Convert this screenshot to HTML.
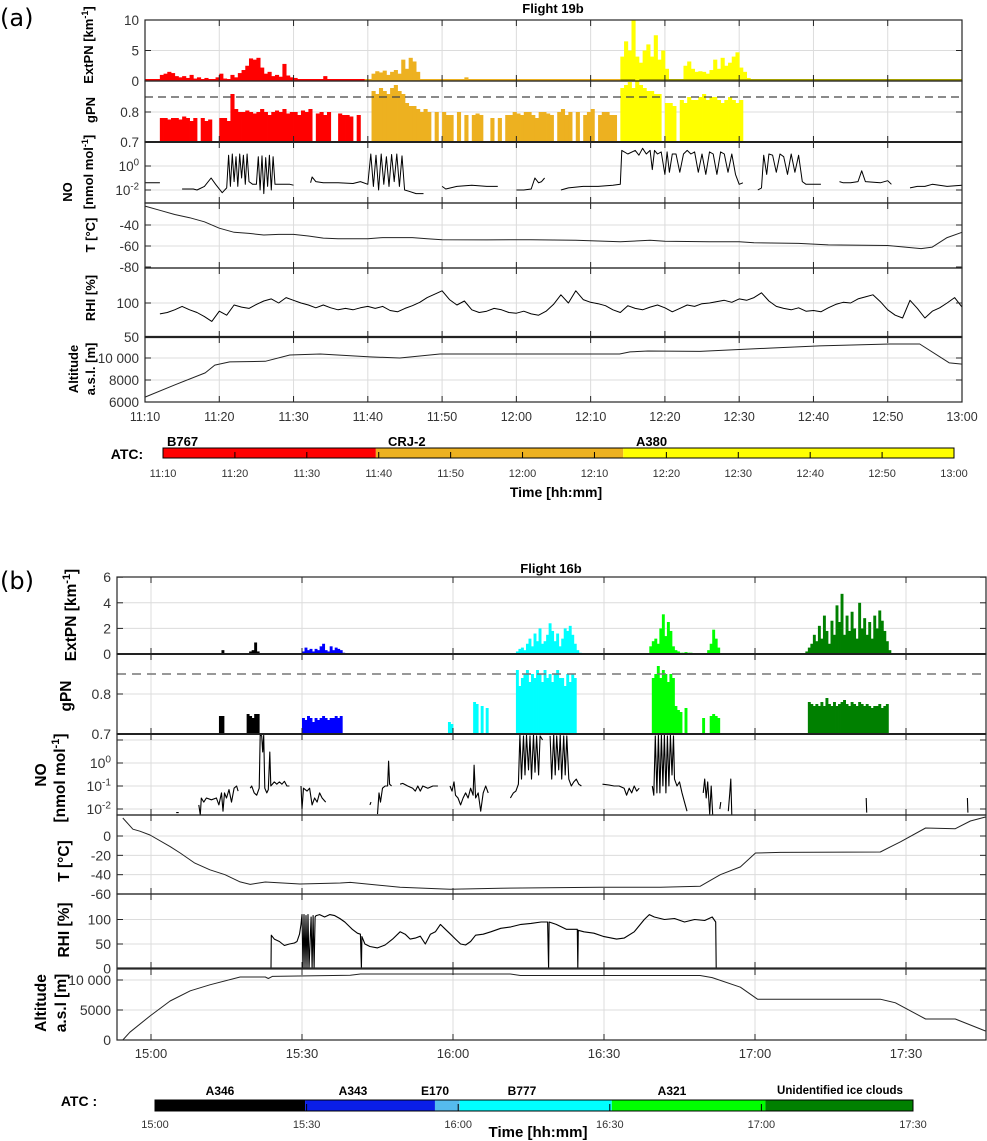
<!DOCTYPE html>
<html><head><meta charset="utf-8"><title>Flights 19b and 16b</title>
<style>
html,body{margin:0;padding:0;background:#fff;}
svg{display:block;font-family:"Liberation Sans",Arial,sans-serif;}
.tl{font-size:13.5px;fill:#333;}
.tt{font-size:12.5px;fill:#333;}
.yl{font-weight:bold;fill:#000;}
.atc{font-weight:bold;fill:#000;}
</style></head>
<body>
<svg id="fig" width="987" height="1141" viewBox="0 0 987 1141" xmlns="http://www.w3.org/2000/svg">
<rect x="0" y="0" width="987" height="1141" fill="#fff"/>
<text x="0" y="26" font-size="24" font-family="DejaVu Sans, sans-serif">(a)</text>
<text x="0" y="589" font-size="24" font-family="DejaVu Sans, sans-serif">(b)</text>
<text x="553" y="13" font-size="13" font-weight="bold" text-anchor="middle">Flight 19b</text>
<text x="551" y="573" font-size="13" font-weight="bold" text-anchor="middle">Flight 16b</text>

<!-- y-axis titles panel a -->
<g class="yl" font-size="13" text-anchor="middle">
<text transform="translate(93,45) rotate(-90)">ExtPN [km<tspan font-size="9" dy="-5">-1</tspan><tspan dy="5">]</tspan></text>
<text transform="translate(95,110) rotate(-90)">gPN</text>
<text transform="translate(72,192) rotate(-90)">NO</text>
<text transform="translate(93,172) rotate(-90)">[nmol mol<tspan font-size="9" dy="-5">-1</tspan><tspan dy="5">]</tspan></text>
<text transform="translate(95,235) rotate(-90)">T [°C]</text>
<text transform="translate(95,298) rotate(-90)">RHI [%]</text>
<text transform="translate(78,369) rotate(-90)">Altitude</text>
<text transform="translate(95,369) rotate(-90)">a.s.l. [m]</text>
</g>
<!-- y-axis titles panel b -->
<g class="yl" font-size="15.5" text-anchor="middle">
<text transform="translate(76,615) rotate(-90)">ExtPN [km<tspan font-size="11" dy="-6">-1</tspan><tspan dy="6">]</tspan></text>
<text transform="translate(71,696) rotate(-90)">gPN</text>
<text transform="translate(46,775) rotate(-90)">NO</text>
<text transform="translate(65,778) rotate(-90)">[nmol mol<tspan font-size="11" dy="-6">-1</tspan><tspan dy="6">]</tspan></text>
<text transform="translate(69,861) rotate(-90)">T [°C]</text>
<text transform="translate(69,930) rotate(-90)">RHI [%]</text>
<text transform="translate(46,1003) rotate(-90)">Altitude</text>
<text transform="translate(66,1003) rotate(-90)">a.s.l [m]</text>
</g>

<!-- ATC bar labels a -->
<text class="atc" x="127" y="459" font-size="14" text-anchor="middle">ATC:</text>
<text class="atc" x="167" y="446" font-size="13">B767</text>
<text class="atc" x="388" y="446" font-size="13">CRJ-2</text>
<text class="atc" x="636" y="446" font-size="13">A380</text>
<text class="atc" x="556" y="497" font-size="14" text-anchor="middle">Time [hh:mm]</text>
<!-- ATC bar labels b -->
<text class="atc" x="79" y="1106" font-size="14" text-anchor="middle">ATC :</text>
<text class="atc" x="220" y="1095" font-size="12" text-anchor="middle">A346</text>
<text class="atc" x="353" y="1095" font-size="12" text-anchor="middle">A343</text>
<text class="atc" x="435" y="1095" font-size="12" text-anchor="middle">E170</text>
<text class="atc" x="522" y="1095" font-size="12" text-anchor="middle">B777</text>
<text class="atc" x="672" y="1095" font-size="12" text-anchor="middle">A321</text>
<text class="atc" x="840" y="1094" font-size="11.5" text-anchor="middle">Unidentified ice clouds</text>
<text class="atc" x="538" y="1137" font-size="15" text-anchor="middle">Time [hh:mm]</text>
</svg>

<script>
// ===================== DATA: Flight 19b (minutes after 11:10) =====================
const timeTicksA = [0,10,20,30,40,50,60,70,80,90,100,110];
const timeLabelsA = ['11:10','11:20','11:30','11:40','11:50','12:00','12:10','12:20','12:30','12:40','12:50','13:00'];
// ExtPN bars (0.5 min step)
const extRedStart = 2, extRedVals = [1.0,1.2,1.5,1.3,0.8,0.6,0.8,0.5,1.0,0.4,0.6,0.3,0.5,0.3,0.2,0.6,1.2,0.4,0.3,1.0,0.6,1.3,1.8,2.5,3.7,3.5,3.8,2.2,1.2,1.5,0.8,1.0,0.7,2.8,0.9,0.6,0.5,0.3,0.3,0.2,0.2,0.2,0.3,0.2,0.8,0.2,0.3,0.2,0.2,0.3,0.2,0.2,0.2,0.1,0.1];
const extOrangeStart = 30.5, extOrangeVals = [1.2,1.6,1.4,1.7,1.0,1.5,1.8,1.2,3.5,2.0,3.8,3.2,1.5,0.3,0.2,0.2,0.3,0.2,0.2,0.2,0.2,0.1,0.2,0.2,0.2,0.6,0.3,0.1,0.1,0.2,0.1,0.1,0.2,0.1,0.1,0.1,0.2,0.1,0.3,0.1,0.1,0.2,0.1,0.1,0.2,0.2,0.1,0.1,0.2,0.3,0.1,0.2,0.1,0.1,0.2,0.1,0.1,0.3,0.2,0.1,0.2,0.1,0.3,0.2,0.1,0.2,0.1,0.1];
const extYellowStart = 64, extYellowVals = [4,6.5,5,10,4,3,5,6,4,7.5,3.5,5,2,0.3,0.2,0.2,0.3,2.5,3.2,2.0,1.5,1.6,1.5,1.2,1.8,3.5,2.0,3.8,2.5,3.0,4.0,4.7,2.2,1.5,0.5,0.2];
// gPN bars (0.5 min step, null = no data)
const gpnRedStart = 2, gpnRedVals = [0.78,0.78,0.775,0.78,0.78,0.775,0.785,0.78,0.77,0.78,null,0.78,0.77,0.775,null,null,0.78,0.78,0.77,0.86,0.81,0.80,0.80,0.805,0.80,0.795,0.80,0.81,0.80,0.79,0.80,0.805,0.80,0.81,0.795,0.80,0.80,0.79,0.805,0.80,0.81,null,0.795,0.80,0.79,0.80,null,null,0.795,0.79,0.79,0.785,null,0.79];
const gpnOrangeStart = 30.5, gpnOrangeVals = [0.87,0.86,0.88,0.87,0.86,0.88,0.89,0.87,0.86,0.83,0.82,0.82,0.81,0.80,0.81,0.80,null,0.80,null,0.80,0.79,0.79,null,0.80,null,0.79,null,0.79,0.795,0.79,null,null,0.78,null,0.78,null,0.79,0.79,0.80,0.795,0.79,0.80,0.80,0.79,0.78,0.80,0.80,0.795,0.79,null,0.80,0.81,0.79,0.80,null,0.80,null,0.79,0.80,0.81,null,0.79,0.80,0.80,0.79,0.79,null,null];
const gpnYellowStart = 64, gpnYellowVals = [0.88,0.89,0.90,0.88,0.91,0.89,0.88,0.87,0.87,0.86,0.86,null,0.83,0.83,0.82,null,0.84,0.83,0.85,0.84,0.84,0.85,0.86,0.84,0.85,0.85,0.84,0.83,0.84,0.85,0.84,0.83,0.84,null,null,null];
const gpnThreshold = 0.85;
// NO (times in min, values nmol/mol; null = gap)
const noTA = [0,1,2,null,5,6.5,7,8,8.9,9.5,10.4,11,11.25,11.5,11.75,12,12.25,12.5,12.75,13,13.25,13.5,13.75,14,14.5,15,15.25,15.5,15.75,16,16.25,16.5,16.75,17,17.25,17.5,18.5,19.5,20,null,22.3,22.5,23,24,26,28,29,30,30.4,30.75,31.1,31.45,31.8,32.15,32.5,32.85,33.2,33.55,33.9,34.25,34.6,34.95,35.5,36.5,37.5,null,40,40.5,42,44,46,47.5,null,50,51,52,52.5,53,53.4,53.8,null,56,57,59,61,63,64,64.2,65,66,66.5,67,67.5,68,68.3,68.6,69,69.5,70,70.3,70.6,71,71.5,72,72.5,73,73.5,74,74.5,75,75.5,76,76.5,77,77.5,78,78.5,79,79.5,80,80.5,null,82.5,83,83.3,83.7,84,84.5,85,85.5,86,86.5,87,87.5,88,88.5,89,90,91,null,93.5,94,95,96,96.5,97,99,100,100.5,null,103,104,105,106,108,110];
const noVA = [0.04,0.04,0.04,null,0.012,0.012,0.01,0.02,0.1,0.03,0.006,0.015,8,0.02,10,0.05,6,0.02,10,0.1,8,0.03,10,0.05,0.03,0.03,6,0.01,7,0.005,5,0.02,8,0.01,6,0.03,0.03,0.03,0.025,null,0.04,0.12,0.05,0.04,0.04,0.035,0.05,0.03,10,0.02,8,0.01,10,0.03,6,0.02,9,0.05,10,0.02,7,0.01,0.008,0.005,0.005,null,0.02,0.012,0.02,0.025,0.02,0.02,null,0.01,0.01,0.012,0.1,0.04,0.05,0.1,null,0.01,0.015,0.02,0.02,0.025,0.03,20,10,20,8,30,10,20,0.5,20,10,15,0.2,15,0.3,10,10,0.3,10,20,10,15,0.3,10,0.2,15,10,0.2,15,10,0.3,10,0.2,0.03,0.04,null,0.01,0.015,8,0.2,10,8,0.3,10,6,0.2,10,0.3,8,0.05,0.03,0.03,0.03,null,0.05,0.04,0.04,0.05,0.4,0.05,0.04,0.06,0.03,null,0.015,0.02,0.02,0.03,0.02,0.025];
// Temperature
const tempTA = [0,2,4,6,8,10,12,14,16,18,20,22,24,26,30,32,34,36,38,40,46,52,58,64,68,70,76,80,82,88,92,100,104.5,106,108,110];
const tempVA = [-22,-26,-30,-33,-37,-43,-47,-48,-49.5,-49,-49,-50.5,-52.5,-53,-53,-52,-52,-52,-53,-54,-54.2,-54,-54.5,-56,-54.5,-55.5,-56,-56,-57,-57.5,-59,-59.5,-62.5,-61,-52,-47];
// RHI (1-min, starting t=2)
const rhiStartA = 2;
const rhiVA = [84,86,90,95,90,86,80,73,88,82,97,94,92,98,103,106,100,108,104,100,97,93,97,93,90,92,90,93,95,92,95,89,87,92,96,101,108,113,118,105,97,103,90,86,88,92,90,86,85,88,84,82,88,98,112,100,118,105,101,99,96,90,86,96,92,90,94,97,93,87,92,97,95,99,100,102,104,101,106,104,108,115,103,95,92,90,93,88,89,87,93,98,101,100,106,109,112,102,90,82,78,104,92,78,88,93,100,108,94];
// Altitude
const altTA = [0,4,8.1,9.4,10,11.4,16.2,19.5,23.6,30.3,34.3,39.7,63.9,65.3,67.7,74.7,84.1,90.8,100.3,104.3,108.3,110];
const altVA = [6450,7550,8650,9350,9450,9650,9700,10270,10360,10100,10000,10360,10360,10550,10640,10600,10900,11100,11270,11270,9550,9450];
// ATC segments (minutes after 11:10)
const atcStartA = [0,29.6,64];
const atcEndA = [29.6,64,110];

// ===================== DATA: Flight 16b (minutes after 15:00) =====================
const timeTicksB = [0,30,60,90,120,150];
const timeLabelsB = ['15:00','15:30','16:00','16:30','17:00','17:30'];
const extBlackStart = 13.5, extBlackVals = [0,0.3,0,0,0,0,0,0,0,0,0,0,0.2,0.3,0.9,0.2];
const extBlueStart = 30, extBlueVals = [0.2,0.5,0.3,0.4,0.2,0.4,0.3,0.6,0.8,0.3,0.2,0.6,0.3,0.5,0.4,0.3,0.1];
const extCyanStart = 72.5, extCyanVals = [0.2,0.4,0.5,0.3,0.8,1.2,0.6,1.6,1.0,2.0,0.8,1.0,1.5,2.4,1.8,1.0,1.6,0.6,1.2,2.0,1.8,2.2,1.5,0.8,0.3,0.1];
const extGreenStart = 99, extGreenVals = [0.6,1.0,1.2,0.8,2.0,3.1,1.4,2.5,1.8,0.6,0.3,0.2,0.1,0.1,0.15,0.1,0.1,0.05,0,0,0,0,0,0.3,0.8,1.9,1.2,0.5,0];
const extDGreenStart = 130, extDGreenVals = [0.2,0.5,0.8,1.5,1.0,2.2,1.2,3.0,1.8,0.8,2.6,1.5,3.8,2.5,4.7,1.5,3.0,1.8,3.3,2.0,1.2,4.0,2.0,2.8,1.5,2.5,1.2,3.0,2.0,3.4,2.6,1.8,1.0,0.3];
const gpnBlackStart = 13.5, gpnBlackVals = [0.745,0.745,null,null,null,null,null,null,null,null,null,0.75,0.745,0.74,0.75,0.75];
const gpnBlueStart = 30, gpnBlueVals = [0.74,0.735,0.745,0.74,0.73,0.74,0.735,0.74,0.745,0.74,0.735,0.74,0.74,0.745,0.74,0.745];
const gpnCyanStart = 59, gpnCyanVals = [0.73,0.725,null,null,null,null,null,null,null,null,0.78,0.775,null,0.77,null,0.765,null,null,null,null,null,null,null,null,null,null,null,0.86,0.82,0.84,0.85,0.86,0.83,0.85,0.84,0.86,0.85,0.83,0.86,0.84,0.85,0.83,0.85,0.86,0.84,0.84,0.82,0.85,0.83,0.85,0.84];
const gpnGreenStart = 99, gpnGreenVals = [null,0.84,0.85,0.87,0.84,0.86,0.85,0.83,0.85,0.84,0.77,0.76,0.755,null,0.765,null,null,null,null,null,null,0.74,null,null,0.745,0.75,0.745,0.74,null];
const gpnDGreenStart = 130.5, gpnDGreenVals = [0.78,0.775,0.77,0.775,0.77,0.78,0.77,0.79,0.775,0.77,0.78,0.77,0.775,0.78,0.785,0.775,0.77,0.78,0.775,0.77,0.78,0.775,0.77,0.775,0.77,0.765,0.77,0.77,0.775,0.765,0.77,0.775];
const noTB = [5,5.5,null,9.5,9.8,10,10.5,11,12,13,13.5,14,14.3,14.6,15,15.5,16,16.5,17,17.3,null,19.7,20,20.5,21,21.5,21.7,22,22.2,22.4,22.6,23,23.3,23.6,23.8,24.5,25,25.5,26,26.5,27,27.5,null,29.8,30,30.3,31,31.5,32,32.5,33,33.5,34,34.7,null,43.5,43.7,null,45,45.3,45.6,46,46.5,47,47.2,47.4,47.8,null,49.5,50,51,52,52.5,53,53.5,54,55,56,57,null,59.4,59.8,60.2,60.5,61,61.5,62,62.5,63,63.5,64,64.2,64.5,65,65.5,66,66.5,67,null,71.4,72,72.5,73,73.3,73.6,74,74.3,74.6,75,75.3,75.6,76,76.3,76.6,77,77.3,77.8,null,79.3,79.6,80,80.3,80.6,81,81.3,81.6,82,82.3,82.6,83,83.5,84,84.5,85,85.5,null,89.7,91,92,93,94,94.5,95,95.5,96,96.5,97,null,99.6,99.9,100.2,100.5,100.8,101.1,101.4,101.7,102,102.3,102.6,102.9,103.2,103.5,103.8,104,104.5,105,105.5,106,106.5,null,109.7,110,110.3,110.6,111,111.3,111.6,null,113,113.2,null,114.7,115,115.2,115.4,null,142.1,142.2,null,162.2,162.3];
const noVB = [0.007,0.007,null,0.015,0.004,0.03,0.02,0.03,0.025,0.03,0.015,0.05,0.008,0.05,0.03,0.07,0.02,0.08,0.1,0.06,null,0.08,0.1,0.05,0.04,0.08,20,15,3,20,0.08,0.05,0.07,3,0.1,0.15,0.12,0.15,0.12,0.16,0.1,0.1,null,0.1,0.01,0.08,0.06,0.08,0.015,0.03,0.02,0.05,0.03,0.02,null,0.015,0.02,null,0.006,0.05,0.02,0.08,0.1,0.1,1.2,0.12,0.1,null,0.12,0.13,0.1,0.08,0.06,0.1,0.06,0.1,0.08,0.1,0.1,null,0.1,0.06,0.15,0.04,0.03,0.015,0.03,0.05,0.03,0.08,0.04,0.8,0.03,0.05,0.008,0.05,0.1,0.05,null,0.03,0.05,0.06,0.12,20,0.2,15,0.3,20,0.5,15,0.2,18,0.4,15,0.3,15,10,null,15,0.2,18,0.3,15,0.5,18,0.2,15,0.3,15,0.2,0.1,0.15,0.2,0.12,0.1,null,0.12,0.11,0.1,0.1,0.08,0.04,0.08,0.05,0.1,0.06,0.08,null,0.1,0.04,15,0.05,20,0.05,18,0.1,20,0.05,15,0.1,20,0.3,15,0.2,0.1,0.15,0.05,0.02,0.008,null,0.05,0.2,0.03,0.15,0.006,0.1,0.005,null,0.01,0.02,null,0.008,0.05,0.2,0.005,null,0.03,0.007,null,0.03,0.007];
const tempTB = [-5.6,-3.6,-2.2,-0.2,3.8,5.8,8.7,11.7,14.7,17.7,19.7,22.7,29.6,37.6,39.6,49.5,59.4,69.4,89.3,101.2,109.1,113.1,117.1,120.1,125,144.9,148.9,153.9,159.8,162.8,165.8];
const tempVB = [18.6,7,5,1,-11,-17.6,-28,-35,-40,-47.5,-50,-47.6,-49.6,-48.6,-48,-53,-55,-54,-53,-53,-52,-40,-32,-17.6,-17,-16.5,-6,8.3,7.5,15.5,19.6];
const rhiTB = [23.85,23.9,24.5,25.5,26.5,27.5,28.5,29,29.5,29.8,30,30.2,30.4,30.6,30.8,31,31.2,31.4,31.8,32,32.2,32.4,32.6,32.8,33.5,34.5,35.5,36.5,37.5,38.5,39.5,40,41,41.6,41.8,41.9,42.5,43.5,45,46.5,48,49.5,50.5,51.5,52.5,53.5,54.5,55.5,56.5,57.5,58.5,59.5,60.5,61.5,62.5,63.5,64.5,66,67.5,69.5,71.5,73.5,75.5,77.5,78.8,79,79.1,80.5,82.5,84.7,84.8,84.9,86,88,90,92.5,94,96,98,99,100,102,104,106,108,110,111.5,112.2,112.3];
const rhiVB = [0,68,60,55,47,50,52,55,70,90,110,0,110,0,108,0,110,0,105,0,108,0,105,108,110,105,110,108,102,95,85,80,72,70,0,65,50,45,42,48,60,75,70,60,62,66,50,70,75,90,80,70,60,50,48,55,68,70,75,82,85,90,92,95,95,0,95,90,80,80,0,78,75,72,65,60,62,75,100,110,105,100,102,95,100,98,105,95,0];
const altTB = [-5.6,-4.2,-0.2,3.8,7.8,11.7,17.7,22.7,23.3,24.1,39.6,41.6,71.4,73.4,109.1,111.5,117.1,120.5,144.9,147.9,153.9,159.8,165.8];
const altVB = [0,1300,4000,6500,8200,9200,10500,10500,10250,10600,10800,11000,11000,10750,10750,10400,8800,6800,6800,6200,3500,3500,1500];
const atcStartB = [0,29.7,55.4,60.3,90.4,120.8];
const atcEndB = [29.7,55.4,60.3,90.4,120.8,150];

// ===================== RENDERING =====================
const NS = 'http://www.w3.org/2000/svg';
const svg = document.getElementById('fig');
function mk(tag, attrs, parent) {
  const e = document.createElementNS(NS, tag);
  for (const k in attrs) e.setAttribute(k, attrs[k]);
  (parent || svg).insertBefore(e, null);
  return e;
}
const clamp = (v, a, b) => Math.max(a, Math.min(b, v));

// axis scales
const XA = {x0: 145, x1: 962, t0: 0, t1: 110};
const XB = {x0: 117, x1: 986, t0: -6.75, t1: 165.9};
const xa = t => 145 + t * 817 / 110;
const xb = t => 151 + t * 151 / 30;

function panelFrame(xs, X, top, bot, gridVals, yfn, tickVals, tickLabels, labelX, labelSize, ticksT, name) {
  const g = mk('g', {});
  
  
  ticksT.forEach(t => {
    const l = mk('line', {x1: xs(t), x2: xs(t), y1: top, y2: bot, stroke: '#dcdcdc', 'stroke-width': 1}, g);
    
    
  });
  gridVals.forEach(v => {
    const l = mk('line', {x1: X.x0, x2: X.x1, y1: yfn(v), y2: yfn(v), stroke: '#dcdcdc', 'stroke-width': 1}, g);
    
    
  });
  tickVals.forEach((v, i) => {
    const lab = tickLabels[i];
    if (lab === null) return;
    const t = mk('text', {x: labelX, y: yfn(v) + labelSize * 0.36, 'text-anchor': 'end', 'font-size': labelSize, fill: '#333'});
    
    
    if (typeof lab === 'string' && lab.startsWith('10^')) {
      t.textContent = '10';
      const s = mk('tspan', {'font-size': labelSize * 0.72, dy: -labelSize * 0.4}, t);
      s.textContent = lab.slice(3);
    } else t.textContent = lab;
  });
}
function panelBorder(xs, X, top, bot, tickVals, yfn, ticksT, name) {
  const g = mk('g', {});
  
  
  const r = mk('rect', {x: X.x0, y: top, width: X.x1 - X.x0, height: bot - top, fill: 'none', stroke: '#262626', 'stroke-width': 1.2}, g);
  
  
  ticksT.forEach(t => {
    mk('line', {x1: xs(t), x2: xs(t), y1: top, y2: top + 6, stroke: '#262626', 'stroke-width': 1}, g);
    mk('line', {x1: xs(t), x2: xs(t), y1: bot, y2: bot - 6, stroke: '#262626', 'stroke-width': 1}, g);
  });
  tickVals.forEach(v => {
    const y = yfn(v);
    if (y < top - 0.5 || y > bot + 0.5) return;
    mk('line', {x1: X.x0, x2: X.x0 + 6, y1: y, y2: y, stroke: '#262626'}, g);
    mk('line', {x1: X.x1, x2: X.x1 - 6, y1: y, y2: y, stroke: '#262626'}, g);
  });
}
function bars(xs, yfn, base, start, step, vals, color, name) {
  const g = mk('g', {});
  
  
  const w = xs(step) - xs(0);
  vals.forEach((v, i) => {
    if (v === null) return;
    const y = yfn(v);
    const r = mk('rect', {x: xs(start + i * step), y: y, width: w + 0.4, height: Math.max(0, base - y), fill: color}, g);
    
    
  });
}
function line(xs, yfn, ts, vs, name, color, width) {
  let d = '', pen = false;
  ts.forEach((t, i) => {
    const v = vs[i];
    if (t === null || v === null) { pen = false; return; }
    d += (pen ? 'L' : 'M') + xs(t).toFixed(1) + ' ' + yfn(v).toFixed(1);
    pen = true;
  });
  const p = mk('path', {d: d, fill: 'none', stroke: color || '#000', 'stroke-width': width || 1, 'stroke-linejoin': 'round'});
  
  
}
function timeLabels(xs, ticks, labels, y, size, name) {
  ticks.forEach((t, i) => {
    const e = mk('text', {x: xs(t), y: y, 'text-anchor': 'middle', 'font-size': size, fill: '#333'});
    
    
    e.textContent = labels[i];
  });
}

// ---------- Panel (a) ----------
const yExtA = v => 81 - v * 6.1;
const yGpnA = v => 142 - (v - 0.7) * 300;
const yNoA = v => clamp(166 - Math.log10(v) * 12, 143, 202);
const yTA = v => 225 - (v + 40) * 1.05;
const yRhiA = v => clamp(303 - (v - 100) * 0.68, 268, 337);
const yAltA = v => 358 - (v - 10000) * 0.011;
const A = [
  [20, 81, [5], yExtA, [10, 5, 0], ['10', '5', '0'], 'extpn-a'],
  [81, 142, [0.8], yGpnA, [0.8, 0.7], ['0.8', '0.7'], 'gpn-a'],
  [142, 203, [1, 0.01], yNoA, [1, 0.01], ['10^0', '10^-2'], 'no-a'],
  [203, 268, [-40, -60], yTA, [-40, -60, -80], ['-40', '-60', '-80'], 'temp-a'],
  [268, 337, [100], yRhiA, [100, 50], ['100', '50'], 'rhi-a'],
  [337, 402, [10000, 8000], yAltA, [10000, 8000, 6000], ['10 000', '8000', '6000'], 'alt-a']
];
A.forEach(p => panelFrame(xa, XA, p[0], p[1], p[2], p[3], p[4], p[5], 139, 13.5, timeTicksA, p[6]));

bars(xa, yExtA, 81, extRedStart, 0.5, extRedVals, '#ff0000', 'extpn-a-b767');
bars(xa, yExtA, 81, extOrangeStart, 0.5, extOrangeVals, '#edb120', 'extpn-a-crj2');
bars(xa, yExtA, 81, extYellowStart, 0.5, extYellowVals, '#ffff00', 'extpn-a-a380');
const baseA = mk('g', {});


mk('line', {x1: xa(0), x2: xa(29.6), y1: 80, y2: 80, stroke: '#ff0000', 'stroke-width': 2}, baseA);
mk('line', {x1: xa(29.6), x2: xa(64), y1: 80, y2: 80, stroke: '#edb120', 'stroke-width': 2}, baseA);
mk('line', {x1: xa(64), x2: xa(110), y1: 80, y2: 80, stroke: '#a5a000', 'stroke-width': 2}, baseA);

bars(xa, yGpnA, 142, gpnRedStart, 0.5, gpnRedVals, '#ff0000', 'gpn-a-b767');
bars(xa, yGpnA, 142, gpnOrangeStart, 0.5, gpnOrangeVals, '#edb120', 'gpn-a-crj2');
bars(xa, yGpnA, 142, gpnYellowStart, 0.5, gpnYellowVals, '#ffff00', 'gpn-a-a380');
const dA = mk('line', {x1: XA.x0, x2: XA.x1, y1: yGpnA(gpnThreshold), y2: yGpnA(gpnThreshold), stroke: '#444', 'stroke-width': 1.2, 'stroke-dasharray': '8,5'});



line(xa, yNoA, noTA, noVA, 'no-a-line', '#000', 1);
line(xa, yTA, tempTA, tempVA, 'temp-a-line', '#222', 1);
const rhiTA = rhiVA.map((v, i) => rhiStartA + i);
line(xa, yRhiA, rhiTA, rhiVA, 'rhi-a-line', '#000', 1);
line(xa, yAltA, altTA, altVA, 'alt-a-line', '#222', 1);

A.forEach(p => panelBorder(xa, XA, p[0], p[1], p[4], p[3], timeTicksA, p[6]));
mk('line', {x1: XA.x0, x2: XA.x1, y1: 337, y2: 337, stroke: '#222', 'stroke-width': 2.2});
mk('line', {x1: XA.x0, x2: XA.x1, y1: 142, y2: 142, stroke: '#222', 'stroke-width': 2});
timeLabels(xa, timeTicksA, timeLabelsA, 421, 12.5, 'x-tick-label-a');

// ATC bar (a)
const xatcA = t => 163 + t * 791 / 110;
const atcColorsA = ['#ff0000', '#edb120', '#ffff00'];
const atcNamesA = ['atc-segment-b767', 'atc-segment-crj2', 'atc-segment-a380'];
atcStartA.forEach((s, i) => {
  const r = mk('rect', {x: xatcA(s), y: 448, width: xatcA(atcEndA[i]) - xatcA(s), height: 10, fill: atcColorsA[i]});
  
  
});
timeTicksA.forEach(t => { if (t > 0 && t < 110) mk('line', {x1: xatcA(t), x2: xatcA(t), y1: 452, y2: 458, stroke: '#000'}); });
const fa = mk('rect', {x: 163, y: 448, width: 791, height: 10, fill: 'none', stroke: '#000', 'stroke-width': 1});


timeLabels(xatcA, timeTicksA, timeLabelsA, 477, 11, 'atc-tick-label-a');

// ---------- Panel (b) ----------
const yExtB = v => 654 - v * 12.8;
const yGpnB = v => 734 - (v - 0.7) * 400;
const yNoB = v => clamp(763 - Math.log10(v) * 23, 735, 815);
const yTB = v => 836 - v * 0.967;
const yRhiB = v => 968.5 - v * 0.49;
const yAltB = v => 1040 - v * 0.006;
const B = [
  [577, 654, [2, 4], yExtB, [6, 4, 2, 0], ['6', '4', '2', '0'], 'extpn-b'],
  [654, 734, [0.8], yGpnB, [0.8, 0.7], ['0.8', '0.7'], 'gpn-b'],
  [734, 815, [10, 1, 0.1, 0.01], yNoB, [10, 1, 0.1, 0.01], [null, '10^0', '10^-1', '10^-2'], 'no-b'],
  [815, 894, [0, -20, -40], yTB, [0, -20, -40, -60], ['0', '-20', '-40', '-60'], 'temp-b'],
  [894, 968, [100, 50], yRhiB, [100, 50, 0], ['100', '50', '0'], 'rhi-b'],
  [969, 1040, [10000, 5000], yAltB, [10000, 5000, 0], ['10 000', '5000', '0'], 'alt-b']
];
B.forEach(p => panelFrame(xb, XB, p[0], p[1], p[2], p[3], p[4], p[5], 111, 14, timeTicksB, p[6]));

bars(xb, yExtB, 654, extBlackStart, 0.5, extBlackVals, '#000000', 'extpn-b-a346');
bars(xb, yExtB, 654, extBlueStart, 0.5, extBlueVals, '#0000ff', 'extpn-b-a343');
bars(xb, yExtB, 654, extCyanStart, 0.5, extCyanVals, '#00ffff', 'extpn-b-b777');
bars(xb, yExtB, 654, extGreenStart, 0.5, extGreenVals, '#00ff00', 'extpn-b-a321');
bars(xb, yExtB, 654, extDGreenStart, 0.5, extDGreenVals, '#008000', 'extpn-b-ice');

bars(xb, yGpnB, 734, gpnBlackStart, 0.5, gpnBlackVals, '#000000', 'gpn-b-a346');
bars(xb, yGpnB, 734, gpnBlueStart, 0.5, gpnBlueVals, '#0000ff', 'gpn-b-a343');
bars(xb, yGpnB, 734, gpnCyanStart, 0.5, gpnCyanVals, '#00ffff', 'gpn-b-b777');
bars(xb, yGpnB, 734, gpnGreenStart, 0.5, gpnGreenVals, '#00ff00', 'gpn-b-a321');
bars(xb, yGpnB, 734, gpnDGreenStart, 0.5, gpnDGreenVals, '#008000', 'gpn-b-ice');
const dB = mk('line', {x1: XB.x0, x2: XB.x1, y1: yGpnB(gpnThreshold), y2: yGpnB(gpnThreshold), stroke: '#777', 'stroke-width': 1.5, 'stroke-dasharray': '9,6'});



line(xb, yNoB, noTB, noVB, 'no-b-line', '#000', 1.1);
line(xb, yTB, tempTB, tempVB, 'temp-b-line', '#222', 1);
line(xb, yRhiB, rhiTB, rhiVB, 'rhi-b-line', '#000', 1.1);
line(xb, yAltB, altTB, altVB, 'alt-b-line', '#222', 1);

B.forEach(p => panelBorder(xb, XB, p[0], p[1], p[4], p[3], timeTicksB, p[6]));
mk('line', {x1: XB.x0, x2: XB.x1, y1: 654, y2: 654, stroke: '#222', 'stroke-width': 2});
mk('line', {x1: XB.x0, x2: XB.x1, y1: 734, y2: 734, stroke: '#222', 'stroke-width': 2});
timeLabels(xb, timeTicksB, timeLabelsB, 1058, 13, 'x-tick-label-b');

// ATC bar (b)
const xatcB = t => 155 + t * 758 / 150;
const atcColorsB = ['#000000', '#0a1ee8', '#55bbee', '#00ffff', '#00ff00', '#008000'];
const atcNamesB = ['atc-segment-a346', 'atc-segment-a343', 'atc-segment-e170', 'atc-segment-b777', 'atc-segment-a321', 'atc-segment-ice'];
atcStartB.forEach((s, i) => {
  const r = mk('rect', {x: xatcB(s), y: 1100, width: xatcB(atcEndB[i]) - xatcB(s), height: 11, fill: atcColorsB[i]});
  
  
});
timeTicksB.forEach(t => { if (t > 0 && t < 150) mk('line', {x1: xatcB(t), x2: xatcB(t), y1: 1104, y2: 1111, stroke: '#000'}); });
const fb = mk('rect', {x: 155, y: 1100, width: 758, height: 11, fill: 'none', stroke: '#000', 'stroke-width': 1});


timeLabels(xatcB, timeTicksB, timeLabelsB, 1128, 11, 'atc-tick-label-b');
</script>
</body></html>
